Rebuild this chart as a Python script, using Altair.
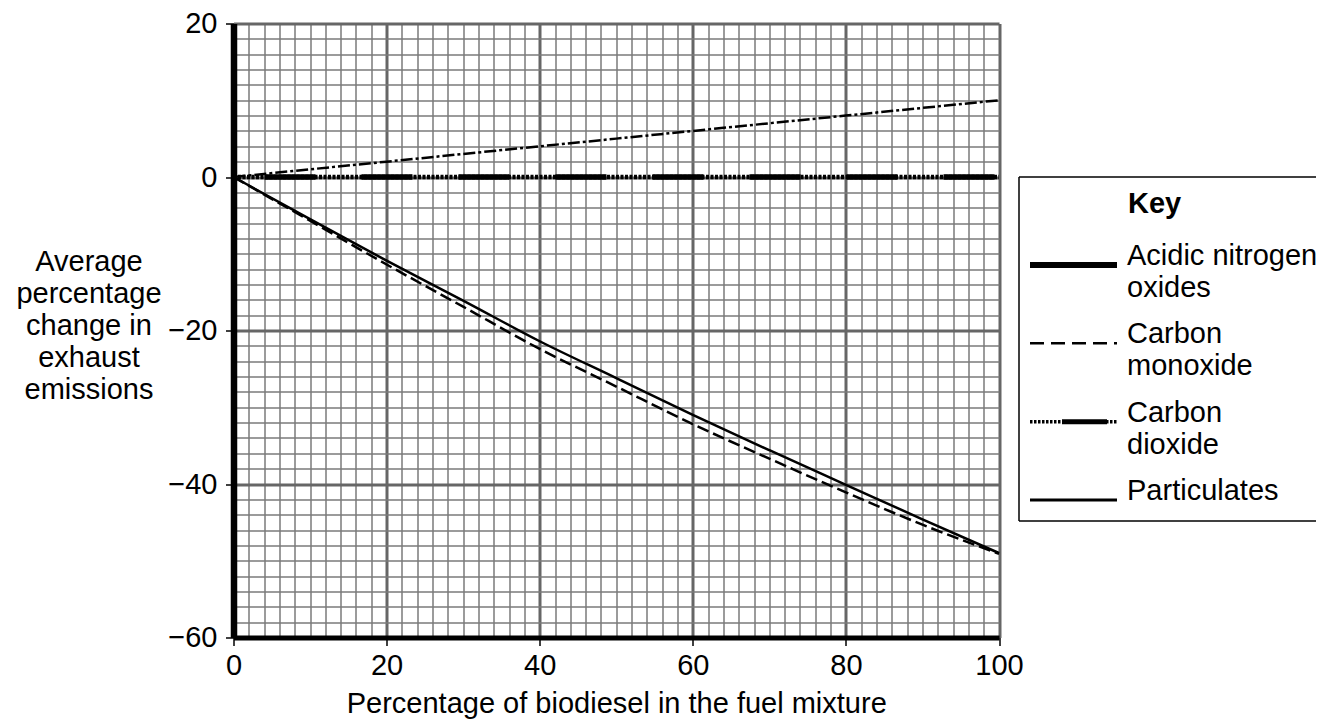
import altair as alt
import pandas as pd

# ---------------- data ----------------
biodiesel = [0, 10, 20, 30, 40, 50, 60, 70, 80, 90, 100]
nitrogen_oxides = [0, 1.0, 2.0, 3.0, 4.0, 5.0, 6.0, 7.0, 8.0, 9.0, 10.0]
carbon_monoxide = [0, -5.7, -11.4, -16.9, -22.4, -27.3, -32.2, -36.7, -41.1, -45.3, -49.1]
carbon_dioxide = [0, 0, 0, 0, 0, 0, 0, 0, 0, 0, 0]
particulates = [0, -5.5, -10.9, -16.1, -21.4, -26.2, -31.0, -35.6, -40.1, -44.6, -49.0]

series_names = ["Acidic nitrogen oxides", "Carbon monoxide", "Carbon dioxide", "Particulates"]
legend_labels = ["Acidic nitrogen\noxides", "Carbon\nmonoxide", "Carbon\ndioxide", "Particulates"]

x_grid_values = list(range(0, 101, 2))
y_grid_values = list(range(-60, 21, 2))

x_title = "Percentage of biodiesel in the fuel mixture"
y_title = ["Average", "percentage", "change in", "exhaust", "emissions"]

FONT = "Liberation Sans"
FS = 29

rows = []
for name, vals in zip(series_names, [nitrogen_oxides, carbon_monoxide, carbon_dioxide, particulates]):
    for xv, yv in zip(biodiesel, vals):
        rows.append({"series": name, "biodiesel": xv, "change": yv})
df = pd.DataFrame(rows)

legend_df = pd.DataFrame({"series": series_names, "label": legend_labels,
                          "row": list(range(len(series_names)))})

# ---------------- axes ----------------
major = "datum.value % 20 === 0"
grid_color = {"condition": {"test": major, "value": "#666666"}, "value": "#7a7a7a"}
grid_width = {"condition": {"test": major, "value": 3}, "value": 1.5}
tick_opacity = {"condition": {"test": major, "value": 1}, "value": 0}

x_axis = alt.Axis(
    values=x_grid_values,
    labelExpr=f"{major} ? datum.label : ''",
    labelOverlap=False, labelFlush=False, labelFontSize=FS, labelColor="black",
    labelPadding=6.4,
    tickSize=8, tickWidth=1.5, tickColor="black", tickOpacity=tick_opacity,
    grid=True, gridColor=grid_color, gridWidth=grid_width,
    gridOpacity={"condition": {"test": "datum.value === 0", "value": 0}, "value": 1},
    domainColor="black", domainWidth=5,
    title=x_title, titleFontSize=FS, titleFontWeight="normal", titleColor="black",
    titleBaseline="alphabetic", titleAlign="center", titleX=382.75, titleY=74.5,
    zindex=0,
)

y_axis = alt.Axis(
    values=y_grid_values,
    labelExpr=f"{major} ? datum.label : ''",
    labelOverlap=False, labelFlush=False, labelFontSize=FS, labelColor="black",
    labelPadding=8.5,
    tickSize=8, tickWidth=1.5, tickColor="black", tickOpacity=tick_opacity,
    grid=True, gridColor=grid_color, gridWidth=grid_width,
    gridOpacity={"condition": {"test": "datum.value === -60", "value": 0}, "value": 1},
    domainColor="black", domainWidth=6.5,
    title=y_title, titleFontSize=FS, titleFontWeight="normal", titleColor="black",
    titleAngle=0, titleAlign="center", titleBaseline="alphabetic",
    titleX=-145, titleY=246.5, titleLineHeight=32,
    zindex=0,
)

base = alt.Chart(df).encode(
    x=alt.X("biodiesel:Q", scale=alt.Scale(domain=[0, 100], nice=False, zero=False), axis=x_axis),
    y=alt.Y("change:Q", scale=alt.Scale(domain=[-60, 20], nice=False, zero=False), axis=y_axis),
)


def series(name):
    return base.transform_filter(alt.datum.series == name)


line_part = series("Particulates").mark_line(color="black", strokeWidth=2.5, interpolate="monotone")
line_co = series("Carbon monoxide").mark_line(color="black", strokeWidth=2.5, strokeDash=[12, 5],
                                              interpolate="monotone")
line_nox = series("Acidic nitrogen oxides").mark_line(color="black", strokeWidth=2.5,
                                                      strokeDash=[12, 3, 3, 3])
line_co2_dots = series("Carbon dioxide").mark_line(color="black", strokeWidth=4.5, strokeDash=[3, 1.5])
line_co2_thick = series("Carbon dioxide").mark_line(color="black", strokeWidth=5.5,
                                                    strokeDash=[51, 46], strokeDashOffset=66)

main = alt.layer(line_part, line_co, line_nox, line_co2_dots, line_co2_thick)

# ---------------- key ----------------
row_y = alt.Y("row:O", scale=alt.Scale(type="point", range=[241.5, 476.5], padding=0), axis=None)
legend_base = alt.Chart(legend_df).encode(y=row_y)
first_row = alt.Chart(legend_df).transform_filter(alt.datum.row == 0)

box_style = dict(color="black", strokeWidth=1.5)
box_top = first_row.mark_rule(**box_style).encode(
    x=alt.value(785.5), x2=alt.value(1110), y=alt.value(153.5))
box_bottom = first_row.mark_rule(**box_style).encode(
    x=alt.value(785.5), x2=alt.value(1110), y=alt.value(497.5))
box_left = first_row.mark_rule(**box_style).encode(
    x=alt.value(785.5), y=alt.value(153.5), y2=alt.value(497.5))

key_title = first_row.mark_text(text="Key", fontWeight="bold", fontSize=FS, align="left",
                                baseline="alphabetic", color="black").encode(
    x=alt.value(894.5), y=alt.value(189.5))
key_labels = legend_base.mark_text(align="left", baseline="alphabetic", fontSize=FS,
                                   lineBreak="\n", lineHeight=32, color="black").encode(
    x=alt.value(893.5), text="label:N")


def key_sym(name, **style):
    return legend_base.transform_filter(alt.datum.series == name).mark_rule(color="black", **style)


sym_nox = key_sym("Acidic nitrogen oxides", strokeWidth=6).encode(x=alt.value(796.5), x2=alt.value(883.5))
sym_co = key_sym("Carbon monoxide", strokeWidth=2.5, strokeDash=[14, 7]).encode(
    x=alt.value(796.5), x2=alt.value(883.5))
sym_co2_dots = key_sym("Carbon dioxide", strokeWidth=3.5, strokeDash=[2.5, 1.5]).encode(
    x=alt.value(796.5), x2=alt.value(883.5))
sym_co2_thick = key_sym("Carbon dioxide", strokeWidth=5).encode(x=alt.value(828.5), x2=alt.value(873.5))
sym_part = key_sym("Particulates", strokeWidth=3).encode(x=alt.value(796.5), x2=alt.value(883.5))

key = alt.layer(box_top, box_bottom, box_left, key_title, key_labels,
                sym_nox, sym_co, sym_co2_dots, sym_co2_thick, sym_part)

chart = alt.layer(main, key).resolve_scale(y="independent").properties(
    width=765.5, height=614,
    autosize=alt.AutoSizeParams(type="none"),
    padding={"left": 225.5, "top": 15.5, "right": 317, "bottom": 81.5},
).configure(font=FONT).configure_view(stroke=None)

chart.save("out.html", embed_options={"renderer": "svg", "actions": False})
